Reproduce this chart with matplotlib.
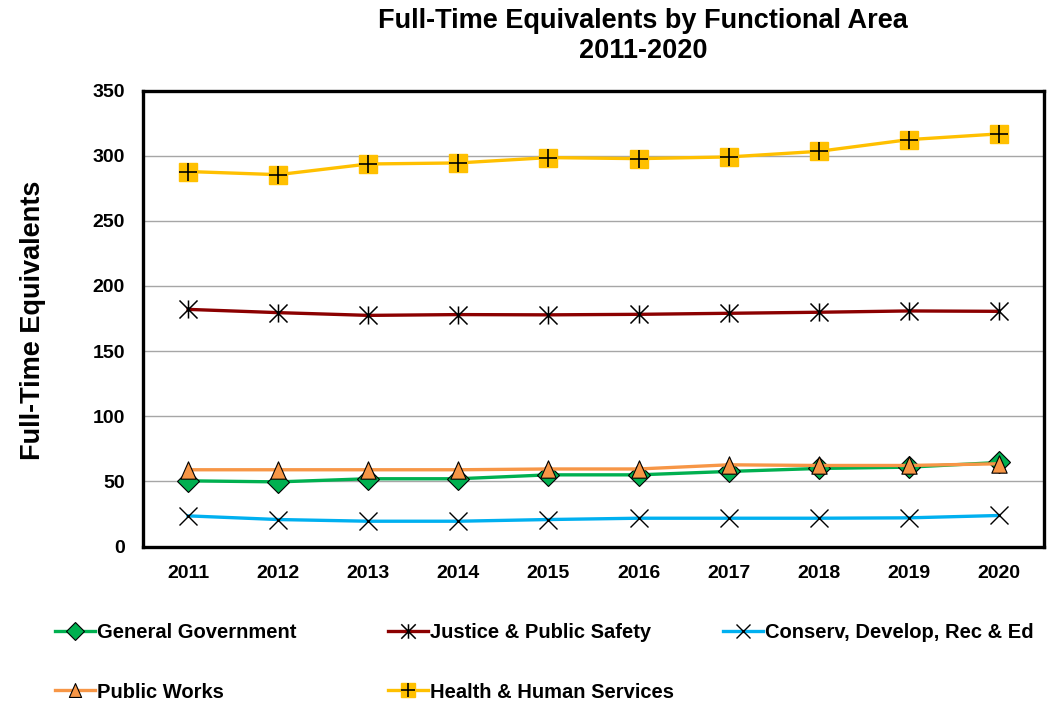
import matplotlib.pyplot as plt
from matplotlib.path import Path
from matplotlib.legend_handler import HandlerTuple

plt.rcParams['font.family'] = ['Liberation Sans', 'DejaVu Sans']
plt.rcParams['font.weight'] = 'bold'

years = ["2011", "2012", "2013", "2014", "2015", "2016", "2017", "2018", "2019", "2020"]
general_gov = [50.4, 49.6, 52.0, 52.0, 55.0, 55.0, 57.6, 59.9, 60.9, 64.5]
justice = [182.0, 179.5, 177.4, 178.0, 177.8, 178.2, 179.0, 179.8, 180.8, 180.5]
conserv = [23.5, 20.7, 19.4, 19.4, 20.7, 21.7, 21.7, 21.7, 22.0, 23.8]
public_works = [58.9, 58.9, 58.9, 58.9, 59.5, 59.5, 62.7, 62.2, 62.2, 63.5]
health = [287.8, 285.4, 293.6, 294.4, 298.5, 297.7, 299.0, 303.3, 312.3, 316.7]

# excel-style star: vertical bar plus an X
star = Path([(0, -1), (0, 1), (-1, -1), (1, 1), (-1, 1), (1, -1)],
            [Path.MOVETO, Path.LINETO, Path.MOVETO, Path.LINETO, Path.MOVETO, Path.LINETO])
# slightly narrow triangle
tri = Path([(-0.88, -1), (0.88, -1), (0, 1), (-0.88, -1)],
           [Path.MOVETO, Path.LINETO, Path.LINETO, Path.CLOSEPOLY])

fig = plt.figure(figsize=(10.57, 7.04), dpi=100)
ax = fig.add_axes([143 / 1057, 1 - 546.5 / 704, (1044 - 143) / 1057, (546.5 - 90.5) / 704])
x = range(len(years))
lw = 2.4

gg, = ax.plot(x, general_gov, color="#00B050", lw=lw, marker="D", ms=11,
              mfc="#00B050", mec="black", mew=0.8)
js, = ax.plot(x, justice, color="#8B0000", lw=lw, marker=star, ms=13,
              mfc="none", mec="black", mew=1.1)
cv, = ax.plot(x, conserv, color="#00B0F0", lw=lw, marker="x", ms=13,
              mec="black", mew=1.0)
pw, = ax.plot(x, public_works, color="#F79646", lw=lw, marker=tri, ms=12.5,
              mfc="#F79646", mec="black", mew=0.8)
hh, = ax.plot(x, health, color="#FFC000", lw=lw, marker="s", ms=13,
              mfc="#FFC000", mec="#FFC000")
hp, = ax.plot(x, health, ls="none", marker="+", ms=13, mec="black", mew=1.2)

ax.set_xlim(-0.5, len(years) - 0.5)
ax.set_ylim(0, 350)
ax.set_yticks(range(0, 351, 50))
ax.set_xticks(list(x))
ax.set_xticklabels(years)
ax.tick_params(length=0, labelsize=14)
ax.tick_params(axis="x", pad=13)
ax.tick_params(axis="y", pad=13)
ax.grid(axis="y", color="#A6A6A6", lw=1)
ax.set_axisbelow(True)
for sp in ax.spines.values():
    sp.set_linewidth(2.4)
    sp.set_color("black")

fig.text(643 / 1057, 1 - 21 / 704, "Full-Time Equivalents by Functional Area",
         ha="center", va="center", fontsize=19.5, fontweight="bold")
fig.text(643 / 1057, 1 - 51 / 704, "2011-2020",
         ha="center", va="center", fontsize=19.5, fontweight="bold")
fig.text(33 / 1057, 1 - 320 / 704, "Full-Time Equivalents", rotation=90,
         ha="center", va="center", fontsize=19.5, fontweight="bold")

entries = [((gg,), "General Government", 55, 633),
           ((js,), "Justice & Public Safety", 388, 633),
           ((cv,), "Conserv, Develop, Rec & Ed", 723, 633),
           ((pw,), "Public Works", 55, 692),
           ((hh, hp), "Health & Human Services", 388, 692)]
for handles, label, px, py in entries:
    fig.legend([handles], [label], loc="center left",
               bbox_to_anchor=(px / 1057, 1 - py / 704),
               handler_map={tuple: HandlerTuple(ndivide=1, pad=0)},
               frameon=False, borderpad=0, borderaxespad=0,
               handlelength=2.0, handletextpad=0.1, markerscale=0.8,
               prop={"size": 14.5, "weight": "bold"})

fig.savefig("out.png", dpi=100)
